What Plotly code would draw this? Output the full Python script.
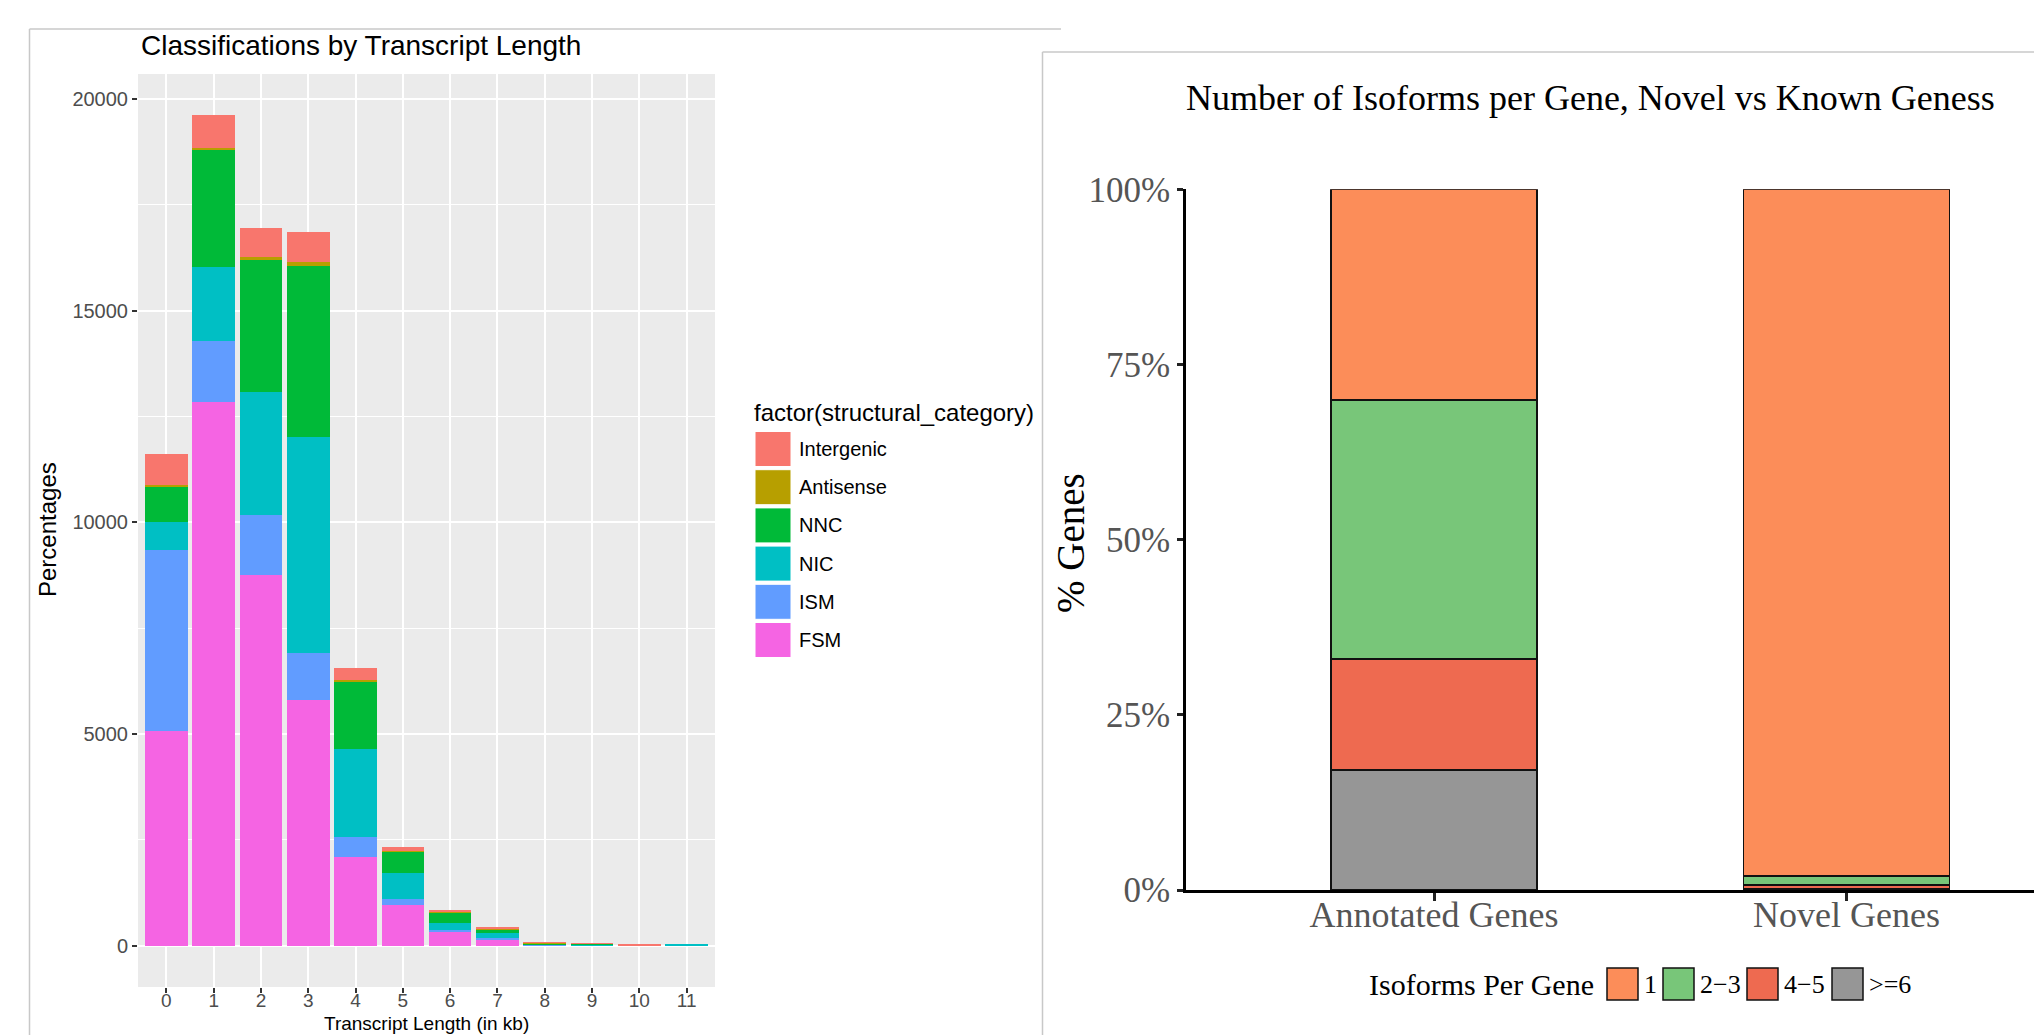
import plotly.graph_objects as go

W, H = 2042, 1035
OFF = 8  # page offset of the plot inside the html body

# ---------------- Left chart data ----------------
length_kb = list(range(12))
length_labels = [str(v) for v in length_kb]
categories = ["Intergenic", "Antisense", "NNC", "NIC", "ISM", "FSM"]
cat_colors = ["#F8766D", "#B79F00", "#00BA38", "#00BFC4", "#619CFF", "#F564E3"]
fsm = [5076, 12830, 8764, 5809, 2090, 955, 340, 158, 12, 3, 0, 0]
ism = [4279, 1442, 1401, 1111, 480, 142, 31, 17, 10, 3, 0, 0]
nic = [662, 1766, 2908, 5089, 2087, 629, 173, 125, 15, 25, 0, 35]
nnc = [820, 2756, 3130, 4043, 1580, 489, 250, 92, 25, 30, 0, 0]
antisense = [40, 57, 62, 104, 28, 15, 10, 10, 15, 0, 0, 0]
intergenic = [730, 764, 678, 700, 293, 103, 40, 47, 10, 3, 40, 0]
left_yticks = [0, 5000, 10000, 15000, 20000]
left_yticklabels = ["0", "5000", "10000", "15000", "20000"]

# ---------------- Right chart data ----------------
gene_groups = ["Annotated Genes", "Novel Genes"]
iso_labels = ["1", "2\u22123", "4\u22125", ">=6"]
iso_colors = ["#FC8D59", "#78C679", "#EE6A50", "#969696"]
iso_1 = [30.1, 98.0]
iso_2_3 = [36.9, 1.3]
iso_4_5 = [15.9, 0.45]
iso_6 = [17.1, 0.25]
right_yticks = [0, 25, 50, 75, 100]
right_yticklabels = ["0%", "25%", "50%", "75%", "100%"]


def fx(px):
    return (px - OFF) / W


def fy(py):
    return 1 - (py - OFF) / H


SANS = "Liberation Sans, Arial, sans-serif"
SERIF = "Liberation Serif, Times New Roman, serif"

fig = go.Figure()

left_series = {
    "FSM": fsm, "ISM": ism, "NIC": nic, "NNC": nnc,
    "Antisense": antisense, "Intergenic": intergenic,
}
for name in ["FSM", "ISM", "NIC", "NNC", "Antisense", "Intergenic"]:
    col = cat_colors[categories.index(name)]
    fig.add_trace(go.Bar(
        x=length_kb, y=left_series[name], name=name, width=0.9,
        marker=dict(color=col, line=dict(width=0)),
        xaxis="x", yaxis="y", showlegend=False,
    ))

right_series = [(">=6", iso_6), ("4\u22125", iso_4_5), ("2\u22123", iso_2_3), ("1", iso_1)]
for name, vals in right_series:
    col = iso_colors[iso_labels.index(name)]
    fig.add_trace(go.Bar(
        x=[0, 1], y=vals, name=name, width=0.5,
        marker=dict(color=col, line=dict(width=1.5, color="#111111")),
        xaxis="x2", yaxis="y2", showlegend=False,
    ))

# pixel geometry of panels (page pixels)
L_x0, L_x1, L_y0, L_y1 = 138, 715, 74, 987
R_x0, R_y0, R_y1 = 1186, 189.3, 890
R_c0, R_step = 1434, 412.5

layout = dict(
    width=W, height=H,
    margin=dict(l=0, r=0, t=0, b=0, autoexpand=False),
    paper_bgcolor="white",
    plot_bgcolor="white",
    barmode="stack",
    showlegend=False,
    xaxis=dict(
        domain=[fx(L_x0), fx(L_x1)], range=[-0.6, 11.6],
        tickvals=length_kb, ticktext=length_labels,
        showgrid=True, gridcolor="white", gridwidth=2.2,
        zeroline=False, showline=False,
        ticks="outside", ticklen=5, tickwidth=2, tickcolor="#333333",
        tickfont=dict(family=SANS, size=19, color="#4D4D4D"),
        ticklabelstandoff=-9,
        anchor="y", automargin=False,
    ),
    yaxis=dict(
        domain=[fy(L_y1), fy(L_y0)], range=[-975, 20588],
        tickvals=left_yticks, ticktext=left_yticklabels,
        showgrid=True, gridcolor="white", gridwidth=2.2,
        minor=dict(dtick=2500, tick0=0, showgrid=True, gridcolor="white", gridwidth=1),
        zeroline=False, showline=False,
        ticks="outside", ticklen=5, tickwidth=2, tickcolor="#333333",
        tickfont=dict(family=SANS, size=20, color="#4D4D4D"),
        anchor="x", automargin=False,
    ),
    xaxis2=dict(
        domain=[fx(R_x0), 1.0],
        range=[(R_x0 - R_c0) / R_step, (W + OFF - R_c0) / R_step],
        tickvals=[0, 1], ticktext=gene_groups,
        showgrid=False, zeroline=False,
        showline=True, linecolor="black", linewidth=3,
        ticks="outside", ticklen=8, tickwidth=3, tickcolor="#222222",
        tickfont=dict(family=SERIF, size=36, color="#555555"),
        ticklabelstandoff=-17,
        anchor="y2", automargin=False,
    ),
    yaxis2=dict(
        domain=[fy(R_y1), fy(R_y0)], range=[0, 100],
        tickvals=right_yticks, ticktext=right_yticklabels,
        showgrid=False, zeroline=False,
        showline=True, linecolor="black", linewidth=2.5,
        ticks="outside", ticklen=6, tickwidth=2.5, tickcolor="#222222",
        tickfont=dict(family=SERIF, size=35, color="#555555"),
        anchor="x2", automargin=False,
    ),
)
fig.update_layout(**layout)

shapes = []
annotations = []

# plot panel background for left chart
shapes.append(dict(type="rect", xref="paper", yref="paper", layer="below",
                   x0=fx(L_x0), x1=fx(L_x1), y0=fy(L_y1), y1=fy(L_y0),
                   fillcolor="#EBEBEB", line=dict(width=0)))

# screenshot frames
frame = dict(color="#C8C8C8", width=1.5)
shapes.append(dict(type="line", xref="paper", yref="paper", x0=fx(29.5), x1=fx(29.5),
                   y0=fy(29), y1=fy(H + OFF), line=frame))
shapes.append(dict(type="line", xref="paper", yref="paper", x0=fx(29.5), x1=fx(1061),
                   y0=fy(29), y1=fy(29), line=frame))
shapes.append(dict(type="line", xref="paper", yref="paper", x0=fx(1042.5), x1=fx(1042.5),
                   y0=fy(52), y1=fy(H + OFF), line=frame))
shapes.append(dict(type="line", xref="paper", yref="paper", x0=fx(1042.5), x1=1,
                   y0=fy(52), y1=fy(52), line=frame))

# left titles
annotations.append(dict(text="Classifications by Transcript Length", xref="paper", yref="paper",
                        x=fx(139), y=fy(46), xanchor="left", yanchor="middle", showarrow=False,
                        font=dict(family=SANS, size=28, color="black")))
annotations.append(dict(text="Percentages", xref="paper", yref="paper",
                        x=fx(47), y=fy(530), xanchor="center", yanchor="middle", showarrow=False,
                        textangle=-90, font=dict(family=SANS, size=24, color="black")))
annotations.append(dict(text="Transcript Length (in kb)", xref="paper", yref="paper",
                        x=fx((L_x0 + L_x1) / 2), y=fy(1023), xanchor="center", yanchor="middle",
                        showarrow=False, font=dict(family=SANS, size=19, color="black")))

# left legend
annotations.append(dict(text="factor(structural_category)", xref="paper", yref="paper",
                        x=fx(752), y=fy(412), xanchor="left", yanchor="middle", showarrow=False,
                        font=dict(family=SANS, size=24, color="black")))
for i, (cat, col) in enumerate(zip(categories, cat_colors)):
    cy = 449 + 38.2 * i
    shapes.append(dict(type="rect", xref="paper", yref="paper",
                       x0=fx(755), x1=fx(791), y0=fy(cy + 17.5), y1=fy(cy - 17.5),
                       fillcolor=col, line=dict(color="white", width=1)))
    annotations.append(dict(text=cat, xref="paper", yref="paper",
                            x=fx(797), y=fy(cy), xanchor="left", yanchor="middle", showarrow=False,
                            font=dict(family=SANS, size=20, color="black")))

# right titles
annotations.append(dict(text="Number of Isoforms per Gene, Novel vs Known Geness", xref="paper", yref="paper",
                        x=fx(1590), y=fy(98), xanchor="center", yanchor="middle", showarrow=False,
                        font=dict(family=SERIF, size=36, color="black")))
annotations.append(dict(text="% Genes", xref="paper", yref="paper",
                        x=fx(1070), y=fy(543), xanchor="center", yanchor="middle", showarrow=False,
                        textangle=-90, font=dict(family=SERIF, size=39, color="black")))

# right legend
annotations.append(dict(text="Isoforms Per Gene", xref="paper", yref="paper",
                        x=fx(1367), y=fy(984), xanchor="left", yanchor="middle", showarrow=False,
                        font=dict(family=SERIF, size=30, color="black")))
key_left = [1607, 1663, 1747, 1832]
for kx, lab, col in zip(key_left, iso_labels, iso_colors):
    shapes.append(dict(type="rect", xref="paper", yref="paper",
                       x0=fx(kx), x1=fx(kx + 31), y0=fy(1000), y1=fy(968),
                       fillcolor=col, line=dict(color="#111111", width=1.5)))
    annotations.append(dict(text=lab, xref="paper", yref="paper",
                            x=fx(kx + 35), y=fy(984), xanchor="left", yanchor="middle", showarrow=False,
                            font=dict(family=SERIF, size=26, color="black")))

fig.update_layout(shapes=shapes, annotations=annotations)
fig.write_html("out.html")
